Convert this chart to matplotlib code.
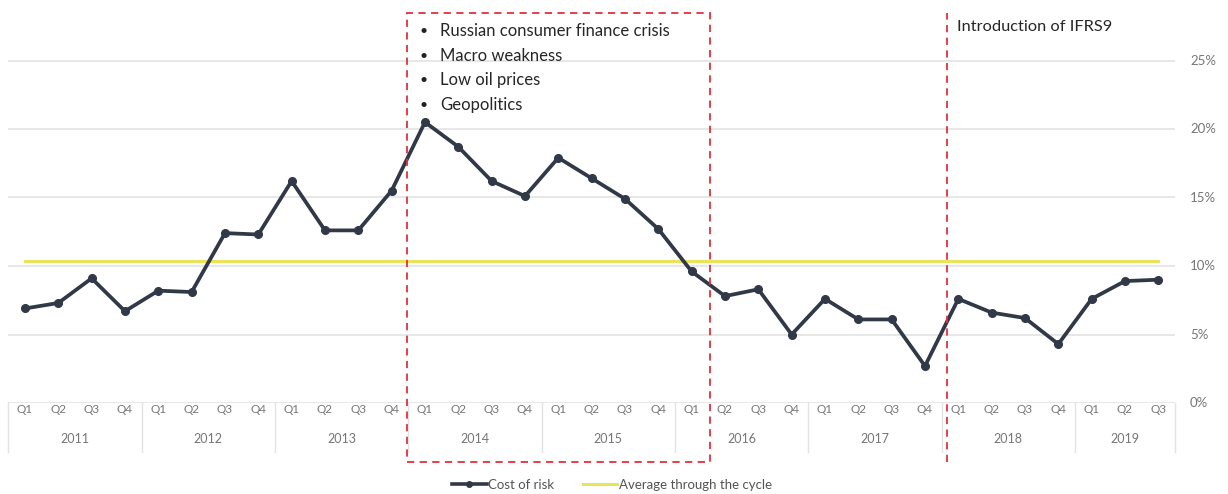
import numpy as np
import matplotlib.pyplot as plt
from matplotlib.patches import Rectangle
from matplotlib.lines import Line2D

years = ['2011', '2012', '2013', '2014', '2015', '2016', '2017', '2018', '2019']
quarters = ['Q1', 'Q2', 'Q3', 'Q4']
cost_of_risk = [6.9, 7.3, 9.1, 6.7,
                8.2, 8.1, 12.4, 12.3,
                16.2, 12.6, 12.6, 15.5,
                20.5, 18.7, 16.2, 15.1,
                17.9, 16.4, 14.9, 12.7,
                9.6, 7.8, 8.3, 5.0,
                7.6, 6.1, 6.1, 2.7,
                7.6, 6.6, 6.2, 4.3,
                7.6, 8.9, 9.0]
average_cycle = 10.35
crisis_notes = ['Russian consumer finance crisis', 'Macro weakness',
                'Low oil prices', 'Geopolitics']
ifrs_label = 'Introduction of IFRS9'
y_ticks = [0, 5, 10, 15, 20, 25]

plt.rcParams['font.family'] = ['Lato', 'DejaVu Sans']

n = len(cost_of_risk)
x = np.arange(n)
q_labels = [quarters[i % 4] for i in range(n)]

fig = plt.figure(figsize=(12.28, 4.94), dpi=100)
ax = fig.add_axes([8.3 / 1228, 91 / 494, 1166.7 / 1228, 403 / 494])
ax.set_xlim(-0.5, 34.5)
ax.set_ylim(0, 403 / 13.7)
ax.axis('off')

grey_txt = '#767676'
line_col = '#313847'
for t in y_ticks:
    ax.axhline(t, color='#e3e3e3', lw=1.2, zorder=0)
    ax.text(34.95, t, f'{t}%', ha='left', va='center', fontsize=9.5, color=grey_txt)

# average line and series
ax.plot([0, n - 1], [average_cycle, average_cycle], color='#ebe35c', lw=2.2, zorder=2)
ax.plot(x, cost_of_risk, color=line_col, lw=2.7, marker='o', ms=5.5, zorder=3)

# category axis drawn as a small table under the plot
for i in range(n):
    ax.text(i, -0.5, q_labels[i], ha='center', va='center', fontsize=8.5,
            color=grey_txt, clip_on=False)
for k, yr in enumerate(years):
    start = 4 * k - 0.5
    end = min(4 * k + 3.5, n - 0.5)
    ax.text((start + end) / 2, -2.6, yr, ha='center', va='center', fontsize=9,
            color=grey_txt, clip_on=False)
    ax.plot([start, start], [0, -3.6], color='#e3e3e3', lw=1.0, clip_on=False)
ax.plot([n - 0.5, n - 0.5], [0, -3.6], color='#e3e3e3', lw=1.0, clip_on=False)

# dashed crisis box
red = '#e0303c'
ax.add_patch(Rectangle((11.45, -4.3), 20.55 - 11.45, 28.5 + 4.3, fill=False,
                       edgecolor=red, ls=(0, (4, 3)), lw=1.3, clip_on=False, zorder=4))
for j, note in enumerate(crisis_notes):
    yy = 403 / 13.7 - (31 + 24.7 * j) / 13.7
    ax.text(11.95, yy, '\u2022', ha='center', va='center', fontsize=10, color='#222222')
    ax.text(12.45, yy, note, ha='left', va='center', fontsize=12, color='#262626')

# IFRS9 line
ax.plot([27.65, 27.65], [-4.3, 28.5], color=red, ls=(0, (4, 3)), lw=1.3,
        clip_on=False, zorder=4)
ax.text(27.95, 403 / 13.7 - 27 / 13.7, ifrs_label, ha='left', va='center',
        fontsize=11.8, color='#262626')

handles = [Line2D([], [], color=line_col, lw=2.6, marker='o', ms=4),
           Line2D([], [], color='#ebe35c', lw=2.2)]
fig.legend(handles, ['Cost of risk', 'Average through the cycle'], loc='center',
           bbox_to_anchor=(612 / 1228, 1 - 485 / 494), ncol=2, frameon=False,
           fontsize=9.5, handlelength=2.6, handletextpad=0.1, columnspacing=2.2,
           labelcolor='#555555')

fig.savefig('out.png', dpi=100)
plt.close()
